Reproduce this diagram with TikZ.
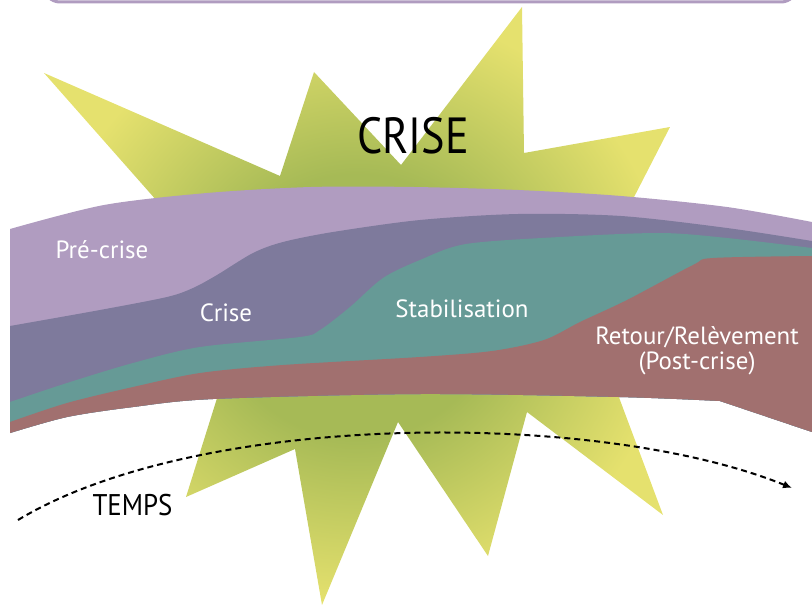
\documentclass[tikz,border=0pt]{standalone}
\usepackage{fontspec}
\setmainfont{PT Sans}
\newfontfamily\condfont[FakeStretch=0.87]{PT Sans}
\newfontfamily\tempsfont[FakeStretch=0.9]{PT Sans}
\usetikzlibrary{arrows.meta}
\definecolor{bandA}{RGB}{176,156,192}
\definecolor{bandB}{RGB}{126,122,156}
\definecolor{bandC}{RGB}{102,154,150}
\definecolor{bandD}{RGB}{161,112,111}
\pgfdeclareradialshading{burst}{\pgfpoint{0bp}{0bp}}{rgb(0bp)=(0.651,0.729,0.337); rgb(11bp)=(0.651,0.729,0.337); rgb(25bp)=(0.898,0.882,0.431); rgb(50bp)=(0.898,0.882,0.431)}
\begin{document}
\begin{tikzpicture}[x=1bp,y=-1bp,
  bandlabel/.style={text=white, font=\fontsize{25}{25}\selectfont, inner sep=0pt, anchor=base},
  timearrow/.style={line width=2bp, dash pattern=on 6bp off 4bp, -{Latex[length=9bp,width=8bp]}}]
\useasboundingbox (0,0) rectangle (812,605);
\clip (0,0) rectangle (812,605);
% top frame
\draw[bandA, line width=3bp, fill=white, rounded corners=16bp] (44,-40) rectangle (797,2);
% starburst
\shade[shading=burst] (44,73) -- (280,176) -- (314,72) -- (401,165) -- (522,7) -- (524,153)
  -- (670,127) -- (612,240) -- (605,360) -- (663,515) -- (527,412) -- (488,556) -- (398,422)
  -- (322,605) -- (295,449) -- (186,497) -- (229,360) -- (172,218) -- cycle;
% band outer
\fill[bandA] plot[smooth] coordinates {(10,229) (104,205) (207,193) (311,187) (414,187) (518,190) (621,196) (727,207) (812,222)}
  -- (812,432) -- plot[smooth] coordinates {(720,401) (619,397) (420,394) (213,399) (133,407) (67,417) (10,433)} -- cycle;
\begin{scope}
\clip plot[smooth] coordinates {(10,229) (104,205) (207,193) (311,187) (414,187) (518,190) (621,196) (727,207) (812,222)}
  -- (812,432) -- plot[smooth] coordinates {(720,401) (619,397) (420,394) (213,399) (133,407) (67,417) (10,433)} -- cycle;
\fill[bandB] (0,326) -- plot[smooth] coordinates {(10,326) (100,310) (167,297) (193,288) (217,275) (253,253) (283,242) (333,232) (420,220) (518,214) (621,216) (727,228) (812,241)}
  -- (830,241) -- (830,640) -- (0,640) -- cycle;
\fill[bandC] (0,402) -- plot[smooth] coordinates {(10,402) (67,383) (133,363) (200,347) (300,337) (320,330) (350,307) (383,278) (420,260) (466,244) (560,237) (660,233) (727,238) (812,248)}
  -- (830,248) -- (830,640) -- (0,640) -- cycle;
\fill[bandD] (0,422) -- plot[smooth] coordinates {(10,422) (67,403) (133,387) (200,373) (283,365) (420,357) (492,351) (544,340) (580,322) (627,300) (693,265) (713,258) (812,256)}
  -- (830,256) -- (830,640) -- (0,640) -- cycle;
\end{scope}
% labels
\node[bandlabel] (pre) at (102,258) {Pré-crise};
\node[bandlabel] (cri) at (226,321) {Crise};
\node[bandlabel] (sta) at (462,317) {Stabilisation};
\node[bandlabel, align=center] (ret) at (697,369) {Retour/Relèvement\\(Post-crise)};
\node[inner sep=0pt, anchor=base, font=\condfont\fontsize{51}{51}\selectfont] (crise) at (413,154) {CRISE};
\node[inner sep=0pt, anchor=base, font=\tempsfont\fontsize{30}{30}\selectfont] (temps) at (132.5,515) {TEMPS};
% time arrow
\coordinate (tstart) at (18,520);
\coordinate (tend) at (792,488);
\draw[timearrow] (tstart) .. controls (200,410) and (600,410) .. (tend);
\end{tikzpicture}
\end{document}
